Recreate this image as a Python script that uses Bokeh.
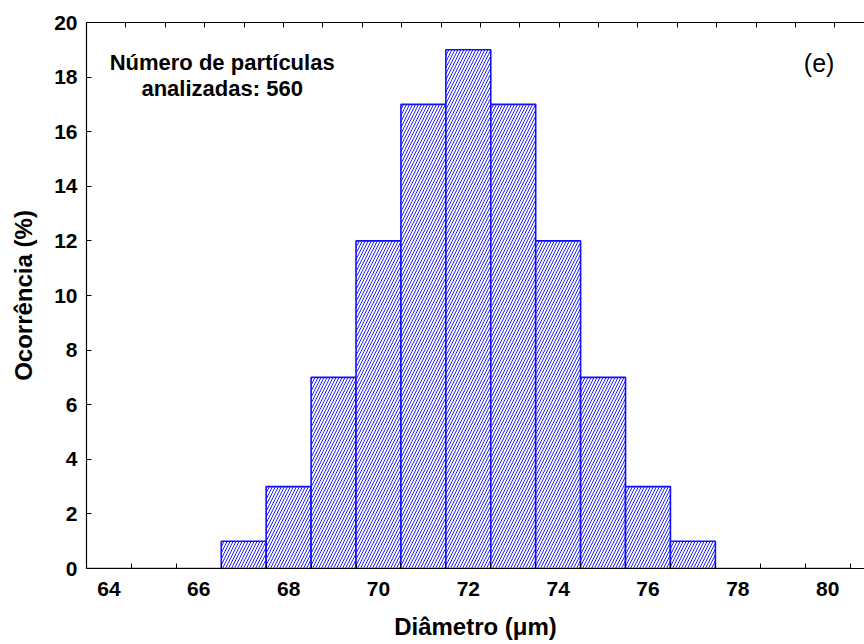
from bokeh.plotting import figure
from bokeh.models import (Range1d, LinearAxis, FixedTicker, Label)
from bokeh.embed import file_html
from bokeh.resources import INLINE

# ---- data ----
diameter = [64, 65, 66, 67, 68, 69, 70, 71, 72, 73, 74, 75, 76, 77, 78, 79, 80]
occurrence = [0, 0, 0, 1, 3, 7, 12, 17, 19, 17, 12, 7, 3, 1, 0, 0, 0]
bin_width = 1.0
x_tick_labels = [64, 66, 68, 70, 72, 74, 76, 78, 80]
y_ticks = [0, 2, 4, 6, 8, 10, 12, 14, 16, 18, 20]
bin_edges = [d - bin_width / 2 for d in diameter] + [diameter[-1] + bin_width / 2]

FONT = "Liberation Sans"

p = figure(width=864, height=644, output_backend="svg", toolbar_location=None,
           x_range=Range1d(63.5, 80.82), y_range=Range1d(0, 20),
           x_axis_type=None, y_axis_type=None,
           min_border_left=86, min_border_right=0, min_border_top=22,
           min_border_bottom=76)
p.outline_line_color = None
p.xgrid.visible = False
p.ygrid.visible = False
p.background_fill_color = "white"

p.vbar(x=diameter, top=occurrence, width=bin_width, bottom=0,
       fill_color="white", line_color="#1010ff", line_width=1.6,
       hatch_pattern="/", hatch_color="#2020ff", hatch_scale=6,
       hatch_weight=1.0)

# bottom axis
xb = LinearAxis(ticker=FixedTicker(ticks=x_tick_labels, minor_ticks=bin_edges))
xb.axis_label = "Diâmetro (μm)"
xb.axis_label_text_font = FONT
xb.axis_label_text_font_style = "bold"
xb.axis_label_text_font_size = "24px"
xb.axis_label_text_color = "black"
xb.axis_label_standoff = 14
xb.major_label_text_font = FONT
xb.major_label_text_font_style = "bold"
xb.major_label_text_font_size = "21px"
xb.major_label_text_color = "black"
xb.major_label_standoff = 13
xb.major_tick_in = 0
xb.major_tick_out = 0
xb.minor_tick_in = 5
xb.minor_tick_out = 0
xb.minor_tick_line_color = "black"
xb.axis_line_color = "black"
xb.axis_line_width = 1.2
p.add_layout(xb, "below")

# left axis
yl = LinearAxis(ticker=FixedTicker(ticks=y_ticks))
yl.axis_label = "Ocorrência (%)"
yl.axis_label_text_font = FONT
yl.axis_label_text_font_style = "bold"
yl.axis_label_text_font_size = "24px"
yl.axis_label_text_color = "black"
yl.axis_label_standoff = 14
yl.major_label_text_font = FONT
yl.major_label_text_font_style = "bold"
yl.major_label_text_font_size = "21px"
yl.major_label_text_color = "black"
yl.major_label_standoff = 9
yl.major_tick_in = 5
yl.major_tick_out = 0
yl.minor_tick_line_color = None
yl.axis_line_color = "black"
yl.axis_line_width = 1.2
p.add_layout(yl, "left")

# top frame with inward ticks
p.extra_x_ranges = {"top": Range1d(0, 19.75)}
xt = LinearAxis(x_range_name="top", ticker=FixedTicker(ticks=list(range(1, 20))))
xt.major_label_text_font_size = "0px"
xt.major_label_text_color = None
xt.major_tick_in = 5
xt.major_tick_out = 0
xt.minor_tick_line_color = None
xt.axis_line_color = "black"
xt.axis_line_width = 1.2
xt.major_label_standoff = 0
p.add_layout(xt, "above")

# annotations
for yy, txt in [(18.53, "Número de partículas"), (17.58, "analizadas: 560")]:
    p.add_layout(Label(x=66.52, y=yy, text=txt, text_color="black",
                       text_font=FONT, text_font_style="bold", text_font_size="22px",
                       text_align="center", text_baseline="middle"))
p.add_layout(Label(x=79.81, y=18.5, text="(e)", text_color="black",
                   text_font=FONT, text_font_size="25px",
                   text_align="center", text_baseline="middle"))

open("out.html", "w").write(file_html(p, INLINE))
